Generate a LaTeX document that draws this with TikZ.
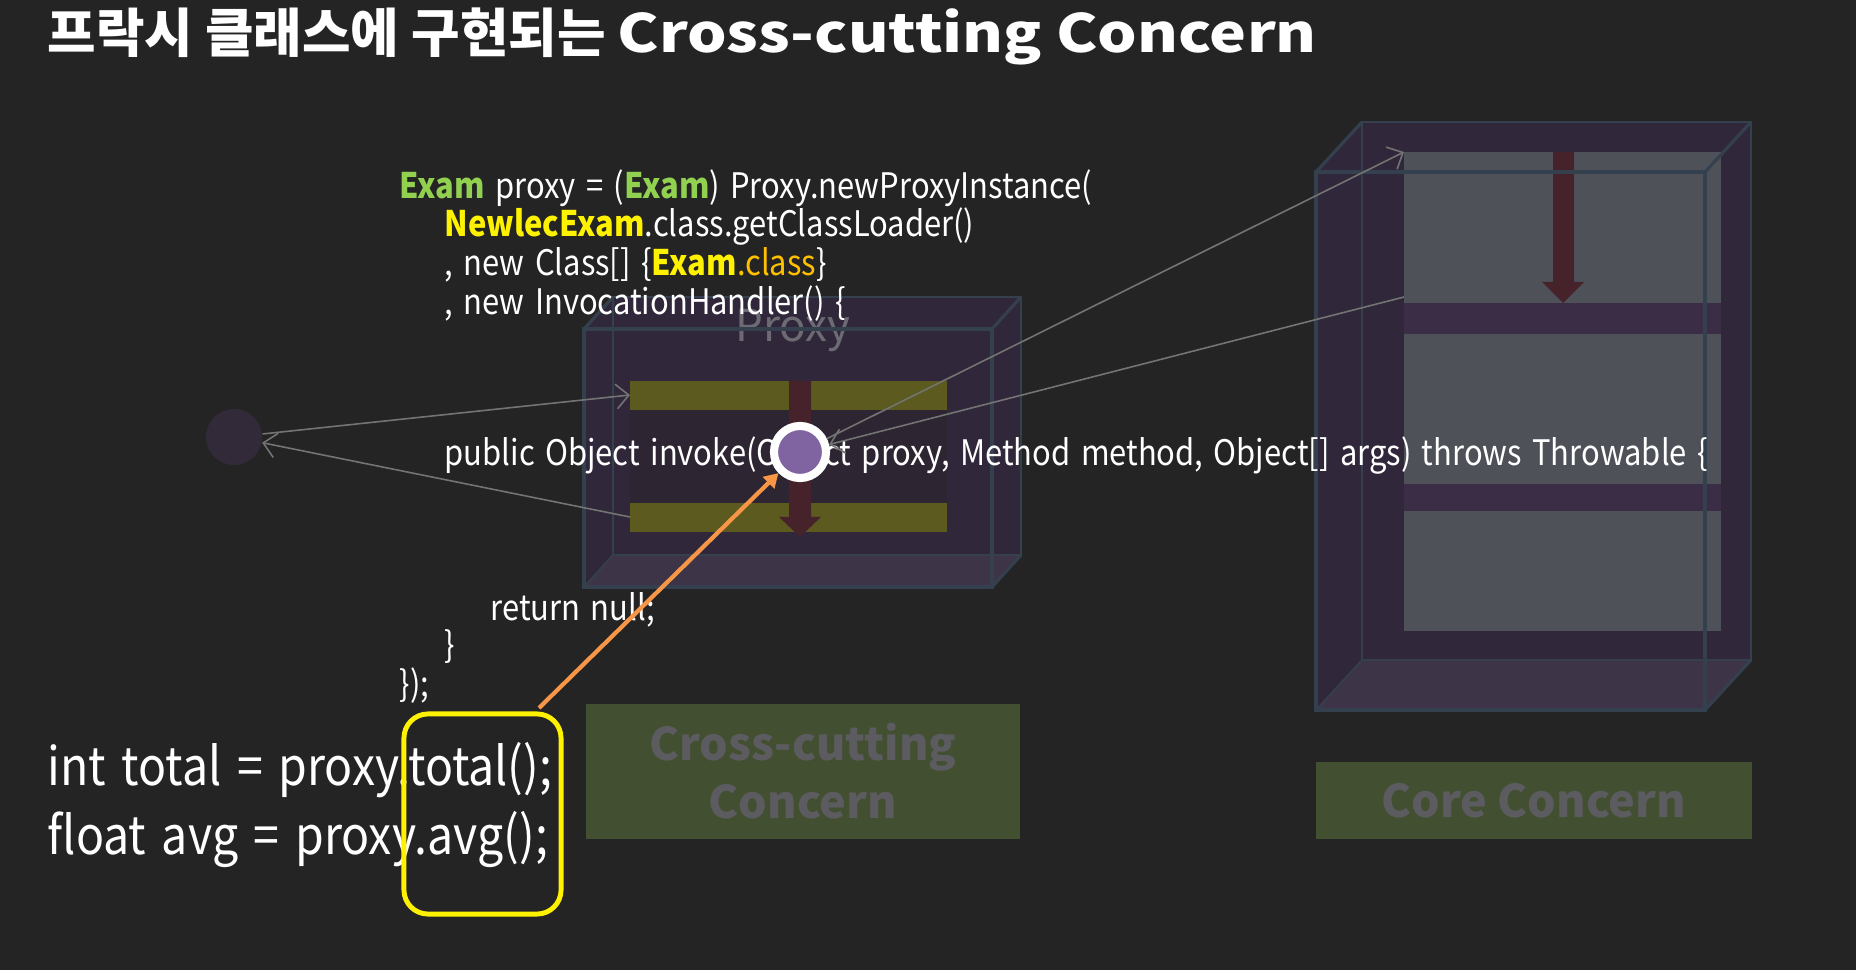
\documentclass[tikz,border=0pt]{standalone}
\usepackage{fontspec}
\setmainfont{Noto Sans CJK KR}
\newfontfamily\codefont{Noto Sans CJK KR}[FakeStretch=0.88, WordSpace=1.5]
\newfontfamily\titlewide{Noto Sans CJK KR}[FakeStretch=1.18]
\usetikzlibrary{arrows.meta,calc}

\definecolor{slide}{HTML}{242424}
\definecolor{boxbody}{HTML}{30283A}
\definecolor{boxfloor}{HTML}{3E3447}
\definecolor{boxedge}{HTML}{35404F}
\definecolor{panelgray}{HTML}{4F5159}
\definecolor{bandpurple}{HTML}{3A2D45}
\definecolor{olivebar}{HTML}{5D5A1F}
\definecolor{midshade}{HTML}{2D2532}
\definecolor{flowred}{HTML}{46232B}
\definecolor{ghostgray}{HTML}{6C6A73}
\definecolor{dotpurple}{HTML}{8064A2}
\definecolor{faintdot}{HTML}{322A38}
\definecolor{wiregray}{HTML}{747474}
\definecolor{callorange}{HTML}{F79646}
\definecolor{concerngreen}{HTML}{434F31}
\definecolor{concerntext}{HTML}{5B5B60}
\definecolor{examgreen}{HTML}{92D050}
\definecolor{classorange}{HTML}{FFC000}

\tikzset{
  code/.style={anchor=base west, text=white, inner sep=0pt, font=\codefont\fontsize{10}{12}\selectfont},
  bigcode/.style={anchor=base west, text=white, inner sep=0pt, font=\codefont\fontsize{15}{18}\selectfont},
  concern/.style={fill=concerngreen, text=concerntext, align=center, inner sep=0pt,
    font=\fontsize{12.8}{16.5}\selectfont\bfseries},
  wire/.style={draw=wiregray, line width=0.45pt, -{Straight Barb[length=3.6pt,width=7pt]}},
}

% front face (x1,y1)(x2,y2), depth offset (dx,dy)
\def\glassbody(#1,#2)(#3,#4)(#5,#6){%
  \fill[boxbody] (#1,#4) -- (#1,#2) -- ++(#5,#6) -- ($(#3,#2)+(#5,#6)$) -- ($(#3,#4)+(#5,#6)$) -- (#3,#4) -- cycle;
  \fill[boxfloor] (#1,#4) -- (#3,#4) -- ++(#5,#6) -- ($(#1,#4)+(#5,#6)$) -- cycle;}
\def\glassframe(#1,#2)(#3,#4)(#5,#6){%
  \draw[boxedge, line width=0.5pt] ($(#1,#2)+(#5,#6)$) rectangle ($(#3,#4)+(#5,#6)$);
  \draw[boxedge, line width=0.5pt] (#1,#4) -- ++(#5,#6);
  \draw[boxedge, line width=0.9pt] (#1,#2) rectangle (#3,#4);
  \draw[boxedge, line width=0.9pt] (#1,#2) -- ++(#5,#6) (#3,#2) -- ++(#5,#6) (#3,#4) -- ++(#5,#6);}

\begin{document}
\begin{tikzpicture}[x=0.01cm,y=-0.01cm]
		%%%%% START %%%%%
		
		\fill[slide] (0,0) rectangle (1856,970);
		\useasboundingbox (0,0) rectangle (1856,970);
		
		\node[anchor=base west, text=white, inner sep=0pt, font=\fontsize{15}{18}\selectfont\bfseries] (title) at (47,53) {프락시 클래스에 구현되는 {\titlewide\bfseries Cross-cutting Concern}};
		
		% proxy
		\glassbody(584,329)(992,587)(29,-32)
		\fill[midshade] (630,410) rectangle (947,503);
		\fill[olivebar] (630,381) rectangle (947,410);
		\fill[olivebar] (630,503) rectangle (947,532);
		\fill[flowred] (789,381) -- (811,381) -- (811,517) -- (821,517) -- (800,537) -- (779,517) -- (789,517) -- cycle;
		\node[anchor=base, text=ghostgray, inner sep=0pt, font=\fontsize{12.5}{15}\selectfont] (proxylabel) at (793,342) {Proxy};
		\glassframe(584,329)(992,587)(29,-32)
		
		% core
		\glassbody(1316,172)(1705,710)(46,-50)
		\fill[bandpurple] (1404,152) rectangle (1721,631);
		\fill[panelgray] (1404,152) rectangle (1721,303);
		\fill[panelgray] (1404,334) rectangle (1721,484);
		\fill[panelgray] (1404,511) rectangle (1721,631);
		\fill[flowred] (1553,152) -- (1574,152) -- (1574,282) -- (1584,282) -- (1563,303) -- (1542,282) -- (1553,282) -- cycle;
		\glassframe(1316,172)(1705,710)(46,-50)
		
		\node[concern, minimum width=4.34cm, minimum height=1.35cm] (crossbox) at (803,771.5) {Cross-cutting\\Concern};
		\node[concern, minimum width=4.36cm, minimum height=0.77cm] (corebox) at (1534,800.5) {Core Concern};
		
		\node[circle, fill=faintdot, inner sep=0pt, minimum size=0.56cm] (leftdot) at (234,437) {};
		
		\node[code] (code1) at (399,199) {\textcolor{examgreen}{\bfseries Exam} proxy = (\textcolor{examgreen}{\bfseries Exam}) Proxy.newProxyInstance(};
		\node[code] (code2) at (444,237) {\textcolor{yellow}{\bfseries NewlecExam}.class.getClassLoader()};
		\node[code] (code3) at (444,276) {, new Class[] \{\textcolor{yellow}{\bfseries Exam}\textcolor{classorange}{.class}\}};
		\node[code] (code4) at (444,315) {, new InvocationHandler() \{};
		\node[code] (code5) at (444,466) {public Object invoke(Object proxy, Method method, Object[] args) throws Throwable \{};
		\node[code] (code6) at (490,620) {return null;};
		\node[code] (code7) at (444,657) {\}};
		\node[code] (code8) at (399,697) {\});};
		
		\node[circle, fill=dotpurple, draw=white, line width=2.3pt, inner sep=0pt, minimum size=0.52cm] (proxydot) at (800,452) {};
		
		\coordinate (barin) at (630,395);
		\coordinate (barout) at (630,517);
		\coordinate (corein) at (1404,152);
		\coordinate (coreout) at (1404,297);
		\draw[wire] (leftdot) -- (barin);
		\draw[wire] (barout) -- (leftdot);
		\draw[wire] (proxydot) -- (corein);
		\draw[wire] (coreout) -- (proxydot);
		
		\node[bigcode] (totalline) at (47,786) {int total = proxy.total();};
		\node[bigcode] (avgline) at (47,854) {float avg = proxy.avg();};
		
		\node[draw=yellow, line width=1.4pt, rounded corners=0.24cm, minimum width=1.57cm, minimum height=2cm] (callbox) at (482.5,814) {};
		\coordinate (callstart) at (539,708);
		\draw[callorange, line width=1.2pt, -{Triangle[length=4pt,width=4.5pt]}] (callstart) -- (proxydot);
		
		%%%%% END %%%%%
\end{tikzpicture}
\end{document}
